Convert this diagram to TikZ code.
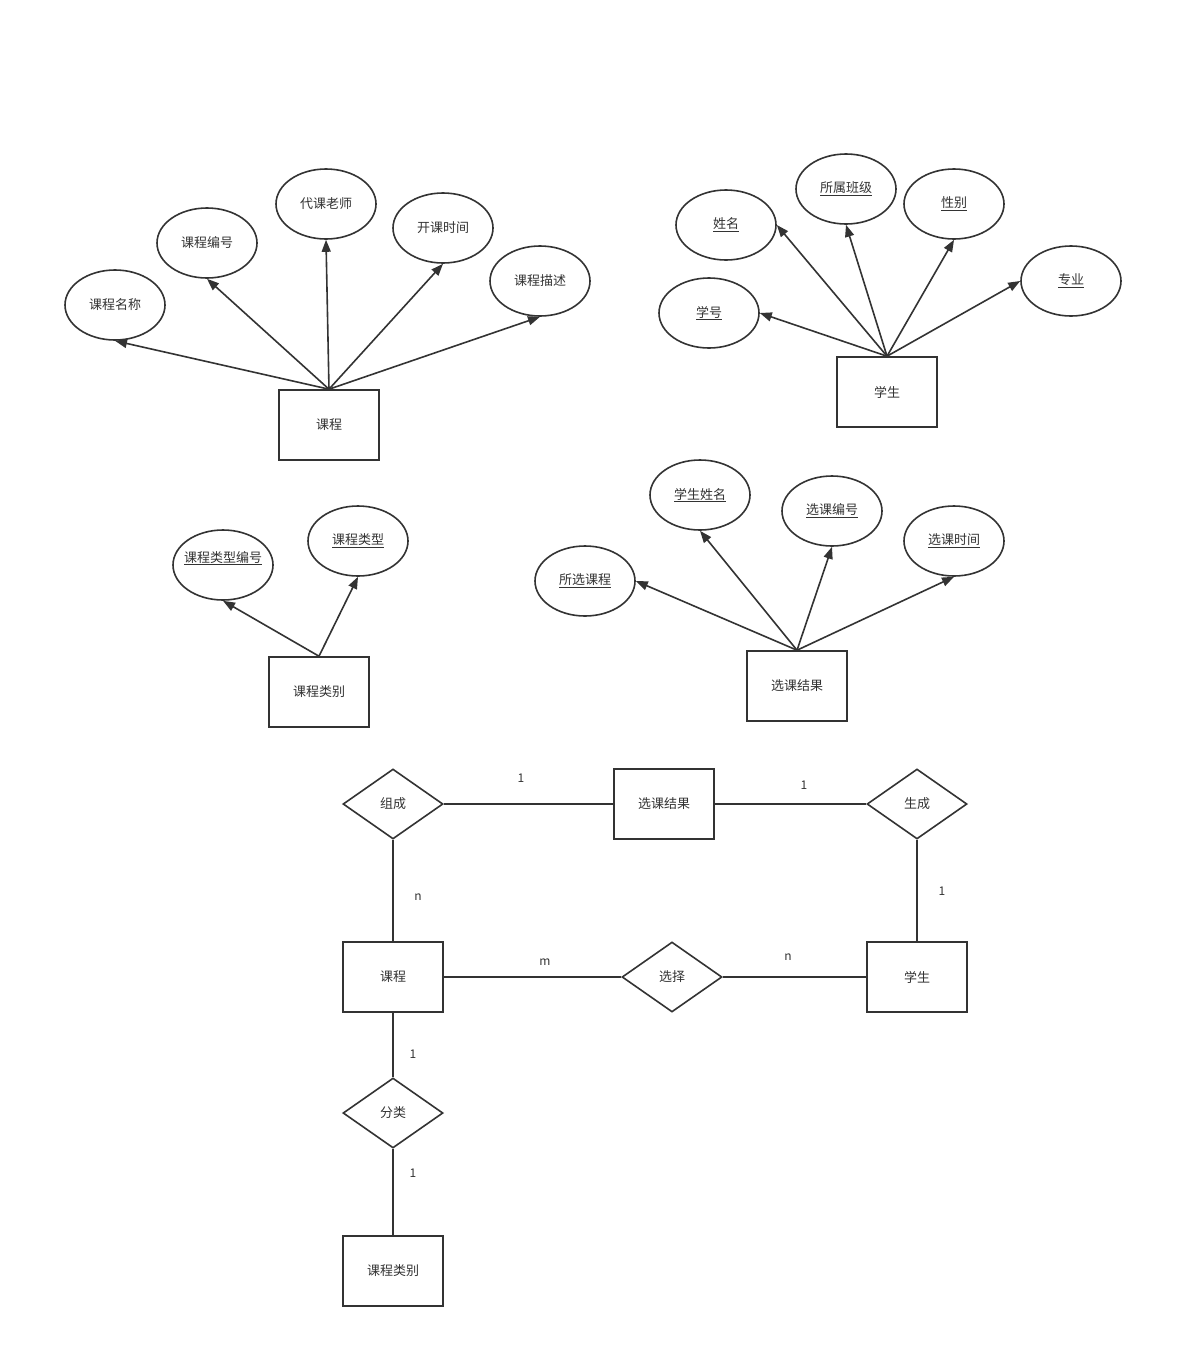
\documentclass[tikz,border=0pt]{standalone}
\usepackage{fontspec}
\setmainfont{Noto Sans CJK SC}
\usetikzlibrary{shapes.geometric,arrows.meta}
\definecolor{ink}{HTML}{333333}
\begin{document}
\begin{tikzpicture}[x=1pt,y=-1pt,
  every node/.style={text=ink,font=\fontsize{13}{15}\selectfont},
  ent/.style={draw=ink,line width=1.6pt,rectangle,minimum width=100pt,minimum height=70pt,inner sep=0pt},
  attr/.style={draw=ink,line width=1.6pt,ellipse,minimum width=100pt,minimum height=70pt,inner sep=0pt},
  rel/.style={draw=ink,line width=1.6pt,diamond,minimum width=100pt,minimum height=70pt,inner sep=0pt},
  arr/.style={draw=ink,line width=1.6pt,-{Triangle[length=12pt,width=9pt]}},
  lnk/.style={draw=ink,line width=1.6pt},
  card/.style={font=\fontsize{12}{14}\selectfont}]
\useasboundingbox (0,0) rectangle (1183,1368);
\fill[white] (0,0) rectangle (1183,1368);
% ---- course
\node[ent] (kc) at (329,425) {课程};
\node[attr] (kcmc) at (115,305) {课程名称};
\node[attr] (kcbh) at (207,243) {课程编号};
\node[attr] (dkls) at (326,204) {代课老师};
\node[attr] (kksj) at (443,228) {开课时间};
\node[attr] (kcms) at (540,281) {课程描述};
\draw[arr] (kc.north) -- (kcmc.south);
\draw[arr] (kc.north) -- (kcbh.south);
\draw[arr] (kc.north) -- (dkls.south);
\draw[arr] (kc.north) -- (kksj.south);
\draw[arr] (kc.north) -- (kcms.south);
% ---- student
\node[ent] (xs) at (887,392) {学生};
\node[attr] (xm) at (726,225) {\underline{姓名}};
\node[attr] (ssbj) at (846,189) {\underline{所属班级}};
\node[attr] (xb) at (954,204) {\underline{性别}};
\node[attr] (xh) at (709,313) {\underline{学号}};
\node[attr] (zy) at (1071,281) {\underline{专业}};
\draw[arr] (xs.north) -- (xm.east);
\draw[arr] (xs.north) -- (ssbj.south);
\draw[arr] (xs.north) -- (xb.south);
\draw[arr] (xs.north) -- (xh.east);
\draw[arr] (xs.north) -- (zy.west);
% ---- course category
\node[ent] (kclb) at (319,692) {课程类别};
\node[attr] (lxbh) at (223,565) {\raisebox{3pt}[0pt][0pt]{\makebox[60pt]{\underline{课程类型编号}}}};
\node[attr] (kclx) at (358,541) {\underline{课程类型}};
\draw[arr] (kclb.north) -- (lxbh.south);
\draw[arr] (kclb.north) -- (kclx.south);
% ---- selection result
\node[ent] (xkjg) at (797,686) {选课结果};
\node[attr] (sxkc) at (585,581) {\underline{所选课程}};
\node[attr] (xsxm) at (700,495) {\underline{学生姓名}};
\node[attr] (xkbh) at (832,511) {\underline{选课编号}};
\node[attr] (xksj) at (954,541) {\underline{选课时间}};
\draw[arr] (xkjg.north) -- (sxkc.east);
\draw[arr] (xkjg.north) -- (xsxm.south);
\draw[arr] (xkjg.north) -- (xkbh.south);
\draw[arr] (xkjg.north) -- (xksj.south);
% ---- ER relationships
\node[rel] (zc) at (393,804) {组成};
\node[ent] (bjg) at (664,804) {选课结果};
\node[rel] (sc) at (917,804) {生成};
\node[ent] (bkc) at (393,977) {课程};
\node[rel] (xz) at (672,977) {选择};
\node[ent] (bxs) at (917,977) {学生};
\node[rel] (fl) at (393,1113) {分类};
\node[ent] (blb) at (393,1271) {课程类别};
\draw[lnk] (zc.east) -- (bjg.west);
\draw[lnk] (bjg.east) -- (sc.west);
\draw[lnk] (zc.south) -- (bkc.north);
\draw[lnk] (sc.south) -- (bxs.north);
\draw[lnk] (bkc.east) -- (xz.west);
\draw[lnk] (xz.east) -- (bxs.west);
\draw[lnk] (bkc.south) -- (fl.north);
\draw[lnk] (fl.south) -- (blb.north);
\node[card] (c1) at (521,778) {1};
\node[card] (c2) at (804,785) {1};
\node[card] (c3) at (418,897) {n};
\node[card] (c4) at (942,891) {1};
\node[card] (c5) at (545,962) {m};
\node[card] (c6) at (788,957) {n};
\node[card] (c7) at (413,1054) {1};
\node[card] (c8) at (413,1173) {1};
\end{tikzpicture}
\end{document}
